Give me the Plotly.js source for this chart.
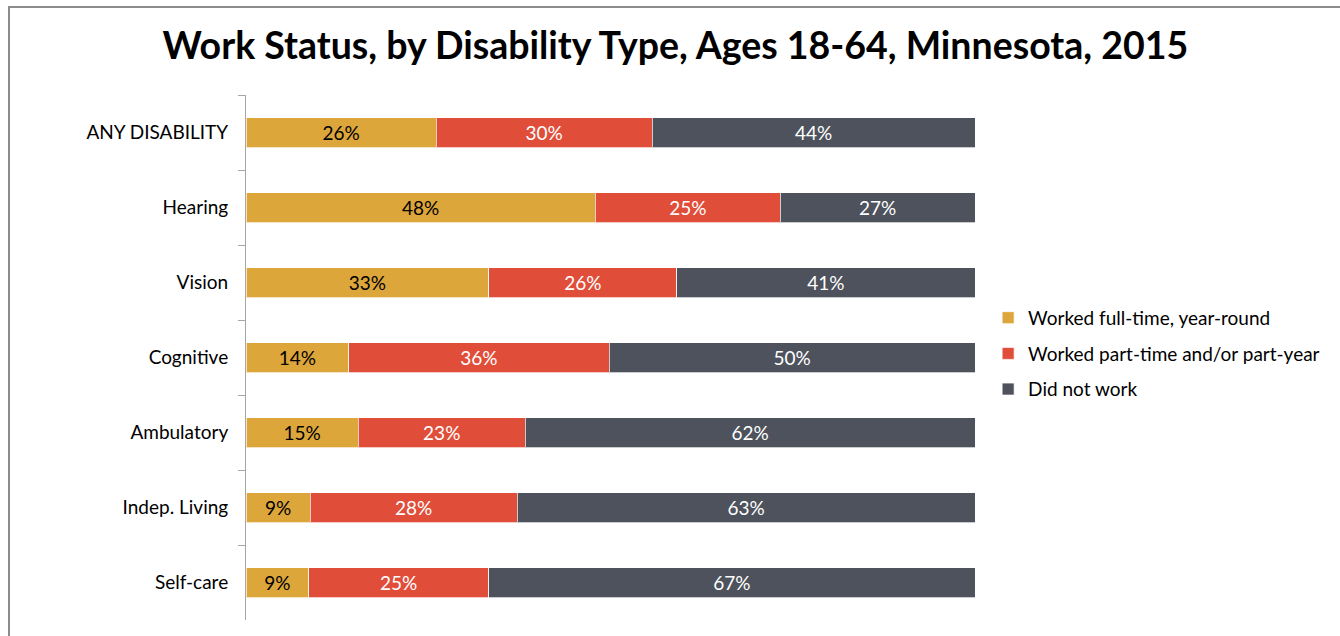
<!DOCTYPE html>
<html>
<head>
<meta charset="utf-8">
<script src="https://cdn.plot.ly/plotly-3.0.1.min.js"></script>
<style>
  html, body { margin: 0; padding: 0; background: #fff; }
  #chart { width: 1340px; height: 636px; position: absolute; left: 0; top: 0; }
  #frame { position: absolute; left: 8px; top: 6px; width: 1340px; height: 640px;
           border-left: 2px solid #8c8c8c; border-top: 2px solid #8c8c8c; pointer-events: none; }
</style>
</head>
<body>
<div id="chart"></div>
<div id="frame"></div>
<script>
const categories = ["ANY DISABILITY", "Hearing", "Vision", "Cognitive", "Ambulatory", "Indep. Living", "Self-care"];
const fullTime = [26.1, 47.9, 33.3, 14.1, 15.4, 8.8, 8.6];
const partTime = [29.6, 25.4, 25.8, 35.7, 22.9, 28.4, 24.7];
const didNotWork = [44.3, 26.7, 40.9, 50.2, 61.7, 62.8, 66.7];
const seriesNames = ["Worked full-time, year-round", "Worked part-time and/or part-year", "Did not work"];
const seriesColors = ["#DDA63A", "#E04E3A", "#4D525C"];
const textColors = ["#000000", "#ffffff", "#ffffff"];
const FONT = "Lato, 'Open Sans', sans-serif";

const seriesValues = [fullTime, partTime, didNotWork];
const traces = seriesValues.map((vals, i) => ({
  type: 'bar',
  orientation: 'h',
  name: seriesNames[i],
  legendgroup: 'g' + i,
  y: categories,
  x: vals,
  text: vals.map(v => Math.round(v) + '%'),
  textposition: 'inside',
  insidetextanchor: 'middle',
  textangle: 0,
  insidetextfont: { family: FONT, size: 19, color: textColors[i] },
  constraintext: 'none',
  marker: { color: seriesColors[i], line: { color: 'rgba(255,255,255,0.7)', width: 1 } },
  width: 0.4,
  hoverinfo: 'skip'
}));

const layout = {
  width: 1340,
  height: 636,
  barmode: 'stack',
  paper_bgcolor: '#ffffff',
  plot_bgcolor: '#ffffff',
  margin: { l: 246, r: 365, t: 95, b: 16, pad: 0 },
  title: {
    text: '<b>Work Status, by Disability Type, Ages 18-64, Minnesota, 2015</b>',
    font: { family: FONT, size: 37.5, color: '#000000', weight: 900 },
    x: 0.504, xanchor: 'center', xref: 'container',
    y: 0.928, yanchor: 'middle', yref: 'container'
  },
  xaxis: { range: [0, 100], visible: false, fixedrange: true },
  yaxis: {
    type: 'category',
    autorange: false,
    range: [6.5, -0.5],
    showline: true,
    linecolor: '#a6a6a6',
    linewidth: 1,
    ticks: 'outside',
    tickson: 'boundaries',
    ticklen: 7,
    tickcolor: '#a6a6a6',
    tickwidth: 1,
    ticklabelstandoff: 13,
    showgrid: false,
    zeroline: false,
    tickfont: { family: FONT, size: 19, color: '#000000' }
  },
  showlegend: true,
  legend: {
    x: 1.018, xanchor: 'left',
    y: 0.507, yanchor: 'middle',
    traceorder: 'grouped',
    tracegroupgap: 8,
    font: { family: FONT, size: 19, color: '#000000' },
    itemwidth: 30,
    bgcolor: 'rgba(0,0,0,0)'
  }
};

Plotly.newPlot('chart', traces, layout, { displayModeBar: false, staticPlot: true });
</script>
</body>
</html>
